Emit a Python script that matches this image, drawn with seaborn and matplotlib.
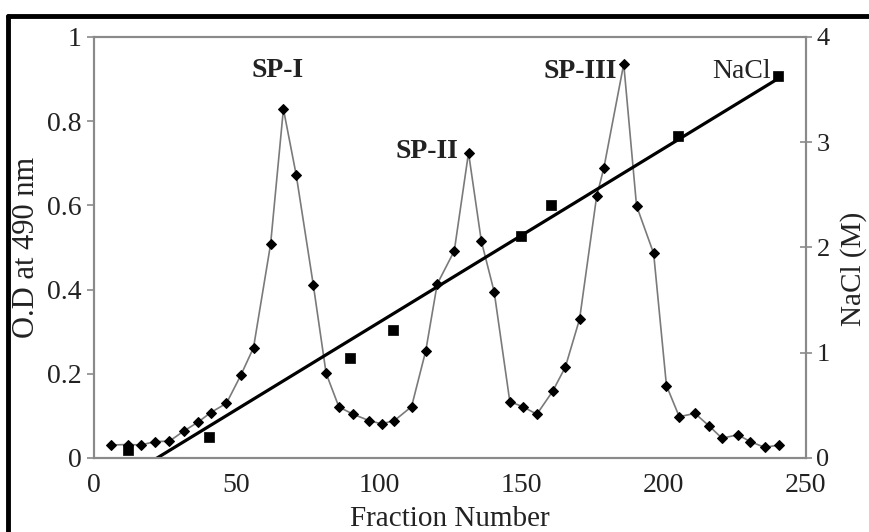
"""
plot.py
Elution profile: O.D at 490 nm of fractions with NaCl gradient on a second axis.
"""

import matplotlib
matplotlib.use("Agg")
import matplotlib.pyplot as plt
from matplotlib.lines import Line2D
import seaborn as sns

# O.D at 490 nm per fraction
fraction = [6, 12, 16.5, 21.5, 26.5, 31.5, 36.5, 41, 46.5, 51.5,
            56, 62, 66.5, 71, 77, 81.5, 86, 91, 96.5, 101,
            105.5, 111.5, 116.5, 120.5, 126.5, 131.5, 136, 140.5, 146, 150.5,
            155.5, 161, 165.5, 170.5, 176.5, 179, 186, 190.5, 196.5, 201,
            205.5, 211, 216, 220.5, 226, 230.5, 235.5, 240.5]
od = [0.031, 0.032, 0.031, 0.039, 0.040, 0.064, 0.085, 0.108, 0.130, 0.196,
      0.262, 0.508, 0.829, 0.672, 0.411, 0.201, 0.121, 0.104, 0.089, 0.081,
      0.089, 0.122, 0.255, 0.413, 0.492, 0.725, 0.515, 0.395, 0.134, 0.122,
      0.104, 0.158, 0.216, 0.330, 0.622, 0.688, 0.936, 0.599, 0.486, 0.172,
      0.098, 0.106, 0.076, 0.047, 0.055, 0.039, 0.025, 0.031]

# measured NaCl concentration (M)
nacl_fraction = [12, 40.5, 90, 105, 150, 160.5, 205, 240]
nacl_conc = [0.08, 0.20, 0.95, 1.22, 2.11, 2.40, 3.06, 3.63]

# peak labels
peak_labels = ["SP-I", "SP-II", "SP-III"]
peak_x = [64.6, 117, 170.6]
peak_y = [0.92, 0.727, 0.917]

x_ticks = [0, 50, 100, 150, 200, 250]
od_ticks = [0, 0.2, 0.4, 0.6, 0.8, 1]
od_tick_labels = ["0", "0.2", "0.4", "0.6", "0.8", "1"]
nacl_ticks = [0, 1, 2, 3, 4]

sns.set_style("white")
plt.rcParams["font.family"] = ["Liberation Serif", "DejaVu Serif"]

spine_grey = "#8a8a8a"
text_col = "#222222"

fig = plt.figure(figsize=(8.69, 5.32), dpi=100)
ax = fig.add_axes([0.1082, 0.1391, 0.8193, 0.7914])

sns.lineplot(x=fraction, y=od, ax=ax, color="#7a7a7a", linewidth=1.2,
             marker="D", markersize=5.5, markerfacecolor="black",
             markeredgecolor="black")

ax2 = ax.twinx()
sns.regplot(x=nacl_fraction, y=nacl_conc, ax=ax2, scatter=False, ci=None,
            color="black", line_kws={"linewidth": 2.3})
sns.scatterplot(x=nacl_fraction, y=nacl_conc, ax=ax2, marker="s", s=42,
                color="black", edgecolor="black", linewidth=0.5, zorder=5)

ax.set_xlim(0, 250)
ax.set_ylim(0, 1)
ax2.set_ylim(0, 4)
ax.set_xticks(x_ticks)
ax.set_xticklabels([str(t) for t in x_ticks])
ax.set_yticks(od_ticks)
ax.set_yticklabels(od_tick_labels)
ax2.set_yticks(nacl_ticks)
ax2.set_yticklabels([str(t) for t in nacl_ticks])

for a in (ax, ax2):
    for s in a.spines.values():
        s.set_visible(True)
        s.set_color(spine_grey)
        s.set_linewidth(1.5)

ax.tick_params(axis="both", direction="out", length=5, width=1.2,
               color=spine_grey, labelsize=20, labelcolor=text_col, pad=4)
ax.tick_params(axis="x", pad=6)
ax2.tick_params(axis="y", direction="inout", length=9, width=1.2,
                color=spine_grey, labelsize=19, labelcolor=text_col, pad=3)

ax.set_xlabel("Fraction Number", fontsize=21, color=text_col)
ax.set_ylabel("O.D at 490 nm", fontsize=22, color=text_col)
ax2.set_ylabel("NaCl (M)", fontsize=21, color=text_col)
ax.xaxis.set_label_coords(0.5, -0.115)
ax.yaxis.set_label_coords(-0.074, 0.5)
ax2.yaxis.set_label_coords(1.048, 0.45)

for lab, px, py in zip(peak_labels, peak_x, peak_y):
    ax.text(px, py, lab, fontsize=20, fontweight="bold", color=text_col,
            ha="center", va="center")
ax.text(227.2, 0.917, "NaCl", fontsize=20, color=text_col,
        ha="center", va="center")

# thick frame along the top and left edge of the image
fig.add_artist(Line2D([0.0092, 1.0], [0.970, 0.970], transform=fig.transFigure,
                      color="black", linewidth=3.5))
fig.add_artist(Line2D([0.0092, 0.0092], [0.0, 0.970], transform=fig.transFigure,
                      color="black", linewidth=3.5))

fig.savefig("out.png", dpi=100)
